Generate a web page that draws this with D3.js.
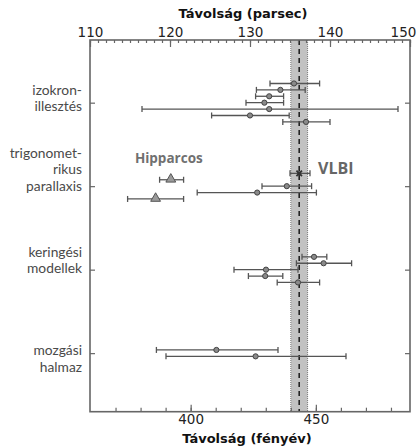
<!DOCTYPE html>
<html>
<head>
<meta charset="utf-8">
<script src="https://cdn.jsdelivr.net/npm/d3@7"></script>
<style>
	html, body { margin: 0; padding: 0; background: #fff; }
	svg { display: block; }
	.axis text { font-family: 'DejaVu Sans', sans-serif; font-size: 13.5px; fill: #222; }
	.axis line { stroke: #666; }
	.title { font-family: 'DejaVu Sans', sans-serif; font-weight: bold; font-size: 13px; fill: #111; }
	.cat { font-family: Lato, 'Open Sans', sans-serif; font-size: 13.8px; fill: #4a4a4a; }
	.note { font-family: 'Open Sans', sans-serif; font-weight: bold; fill: #707070; }
	.bar line { stroke: #555; stroke-width: 1.3; }
</style>
</head>
<body>
<div id="chart"></div>
<script>
// Távolság tartományok (parsec, ill. fényév a kép alsó tengelyéről leolvasva)
const pcDomain = [110, 150]
const lyDomain = [359.8, 487.6]
const pcMajor = [110, 120, 130, 140, 150]
const lyMajor = [400, 450]
const lyMinor = [370, 380, 390, 400, 410, 420, 430, 440, 450, 460, 470, 480]

const methods = ['izokron', 'trigonometrikus', 'keringesi', 'mozgasi']
const methodLines = [
	['izokron-', 'illesztés'],
	['trigonomet-', 'rikus', 'parallaxis'],
	['keringési', 'modellek'],
	['mozgási', 'halmaz']
]

// mérések: érték, alsó és felső határ (parsec)
const isochrone = [
	{v: 135.5, lo: 132.5, hi: 138.7},
	{v: 133.8, lo: 130.8, hi: 136.9},
	{v: 132.4, lo: 130.7, hi: 134.2},
	{v: 131.8, lo: 129.5, hi: 134.2},
	{v: 132.4, lo: 116.5, hi: 148.5},
	{v: 130.0, lo: 125.2, hi: 134.9},
	{v: 137.0, lo: 134.1, hi: 140.0}
]
const parallax = [
	{v: 136.15, lo: 135.0, hi: 137.5, src: 'VLBI'},
	{v: 120.1, lo: 118.7, hi: 121.7, src: 'Hipparcos'},
	{v: 134.6, lo: 131.5, hi: 137.7},
	{v: 130.9, lo: 123.4, hi: 138.3},
	{v: 118.2, lo: 114.7, hi: 121.7, src: 'Hipparcos'}
]
const orbital = [
	{v: 138.0, lo: 136.5, hi: 139.6},
	{v: 139.2, lo: 135.8, hi: 142.7},
	{v: 132.0, lo: 128.0, hi: 136.0},
	{v: 131.9, lo: 129.8, hi: 134.1},
	{v: 136.0, lo: 133.4, hi: 138.7}
]
const cluster = [
	{v: 125.8, lo: 118.3, hi: 133.5},
	{v: 130.7, lo: 119.5, hi: 142.0}
]
const groups = [isochrone, parallax, orbital, cluster]

// VLBI sáv
const band = [135.1, 137.2]

const W = 417, H = 448
const pLeft = 90, pRight = 410, pTop = 40, pBottom = 411.7
const rowStep = 6.4
const lineH = 16.5
const firstLineOffset = [-13, -33, -17.5, -2.5]

const $svg = d3.select('#chart').append('svg')
	.attr('width', W)
	.attr('height', H)

const x = d3.scaleLinear().domain(pcDomain).range([pLeft, pRight])
const xLy = d3.scaleLinear().domain(lyDomain).range([pLeft, pRight])
const y = d3.scalePoint()
	.domain(methods)
	.range([pTop, pBottom])
	.padding(0.726)
	.align(0.517)

const vlbi = parallax[0]

// Sáv és szaggatott vonal
$svg.append('rect')
	.attr('x', x(band[0]))
	.attr('y', pTop)
	.attr('width', x(band[1]) - x(band[0]))
	.attr('height', pBottom - pTop)
	.attr('fill', '#c2c2c2')

band.forEach(b => {
	$svg.append('line')
		.attr('x1', x(b)).attr('x2', x(b))
		.attr('y1', pTop).attr('y2', pBottom)
		.attr('stroke', '#7a7a7a')
		.attr('stroke-width', 1)
		.attr('stroke-dasharray', '1,1')
})

$svg.append('line')
	.attr('x1', x(vlbi.v)).attr('x2', x(vlbi.v))
	.attr('y1', pTop).attr('y2', pBottom)
	.attr('stroke', '#222')
	.attr('stroke-width', 1.6)
	.attr('stroke-dasharray', '5,4')

// Hibasávok
const rows = groups.flatMap((g, gi) => g.map((d, i) => Object.assign({}, d, {
	cat: methods[gi],
	yy: y(methods[gi]) + (i - (g.length - 1) / 2) * rowStep
})))

const $bar = $svg.selectAll('.bar')
	.data(rows)
	.enter()
	.append('g')
	.attr('class', 'bar')

$bar.append('line')
	.attr('x1', d => x(d.lo))
	.attr('x2', d => x(d.hi))
	.attr('y1', d => d.yy)
	.attr('y2', d => d.yy)

$bar.append('line')
	.attr('x1', d => x(d.lo)).attr('x2', d => x(d.lo))
	.attr('y1', d => d.yy - 3).attr('y2', d => d.yy + 3)

$bar.append('line')
	.attr('x1', d => x(d.hi)).attr('x2', d => x(d.hi))
	.attr('y1', d => d.yy - 3).attr('y2', d => d.yy + 3)

$bar.filter(d => !d.src)
	.append('circle')
	.attr('cx', d => x(d.v))
	.attr('cy', d => d.yy)
	.attr('r', 2.6)
	.attr('fill', '#8a8a8a')
	.attr('stroke', '#444')
	.attr('stroke-width', 1)

$bar.filter(d => d.src === 'Hipparcos')
	.append('path')
	.attr('d', d3.symbol().type(d3.symbolTriangle).size(42))
	.attr('transform', d => `translate(${x(d.v)}, ${d.yy - 0.5})`)
	.attr('fill', '#9a9a9a')
	.attr('stroke', '#555')
	.attr('stroke-width', 1)

const $v = $bar.filter(d => d.src === 'VLBI')
$v.append('rect')
	.attr('x', d => x(d.v) - 2)
	.attr('y', d => d.yy - 2)
	.attr('width', 4).attr('height', 4)
	.attr('fill', '#444')
$v.append('path')
	.attr('d', d3.symbol().type(d3.symbolTimes).size(22))
	.attr('transform', d => `translate(${x(d.v)}, ${d.yy})`)
	.attr('fill', 'none')
	.attr('stroke', '#333')
	.attr('stroke-width', 1.8)

// Feliratok
const hip = parallax[1]
const hipY = rows.find(r => r.src === 'Hipparcos').yy
$svg.append('text')
	.attr('class', 'note')
	.attr('x', x(hip.v) - 2)
	.attr('y', hipY - 17)
	.attr('text-anchor', 'middle')
	.style('font-size', '13.5px')
	.text('Hipparcos')

const vlbiY = rows.find(r => r.src === 'VLBI').yy
$svg.append('text')
	.attr('class', 'note')
	.attr('x', x(vlbi.hi) + 8)
	.attr('y', vlbiY + 0.5)
	.style('font-size', '16px')
	.style('fill', '#666')
	.text('VLBI')

// Tengelyek
function clean(g) { g.select('.domain').remove() }

$svg.append('g')
	.attr('class', 'axis')
	.attr('transform', `translate(0, ${pTop})`)
	.call(d3.axisTop(x).tickValues(d3.range(pcDomain[0], pcDomain[1] + 1)).tickSize(-3).tickFormat(''))
	.call(clean)

$svg.append('g')
	.attr('class', 'axis')
	.attr('transform', `translate(0, ${pTop})`)
	.call(d3.axisTop(x).tickValues(pcMajor).tickSize(-7).tickPadding(3))
	.call(clean)
	.call(g => g.selectAll('text').filter(d => d === pcDomain[1]).attr('dx', -7))

$svg.append('g')
	.attr('class', 'axis')
	.attr('transform', `translate(0, ${pBottom})`)
	.call(d3.axisBottom(xLy).tickValues(lyMinor).tickSize(-4).tickFormat(''))
	.call(clean)

$svg.append('g')
	.attr('class', 'axis')
	.attr('transform', `translate(0, ${pBottom})`)
	.call(d3.axisBottom(xLy).tickValues(lyMajor).tickSize(-7).tickPadding(3))
	.call(clean)

$svg.append('g')
	.attr('class', 'axis')
	.attr('transform', `translate(${pLeft}, 0)`)
	.call(d3.axisLeft(y).tickSize(-5).tickFormat(''))
	.call(clean)

$svg.append('g')
	.attr('class', 'axis')
	.attr('transform', `translate(${pRight}, 0)`)
	.call(d3.axisRight(y).tickSize(-5).tickFormat(''))
	.call(clean)

$svg.selectAll('.axis line').attr('stroke-width', 1.2)

$svg.append('rect')
	.attr('x', pLeft).attr('y', pTop)
	.attr('width', pRight - pLeft).attr('height', pBottom - pTop)
	.attr('fill', 'none')
	.attr('stroke', '#666')
	.attr('stroke-width', 1.6)

// Kategória címkék
methods.forEach((m, mi) => {
	const $t = $svg.append('text')
		.attr('class', 'cat')
		.attr('text-anchor', 'end')
	methodLines[mi].forEach((l, li) => {
		$t.append('tspan')
			.attr('x', pLeft - 8)
			.attr('y', y(m) + firstLineOffset[mi] + li * lineH)
			.attr('dy', '0.35em')
			.text(l)
	})
})

// Tengelycímek
$svg.append('text')
	.attr('class', 'title')
	.attr('x', 243)
	.attr('y', 18)
	.attr('text-anchor', 'middle')
	.text('Távolság (parsec)')

$svg.append('text')
	.attr('class', 'title')
	.attr('x', 247)
	.attr('y', 443)
	.attr('text-anchor', 'middle')
	.text('Távolság (fényév)')
</script>
</body>
</html>
